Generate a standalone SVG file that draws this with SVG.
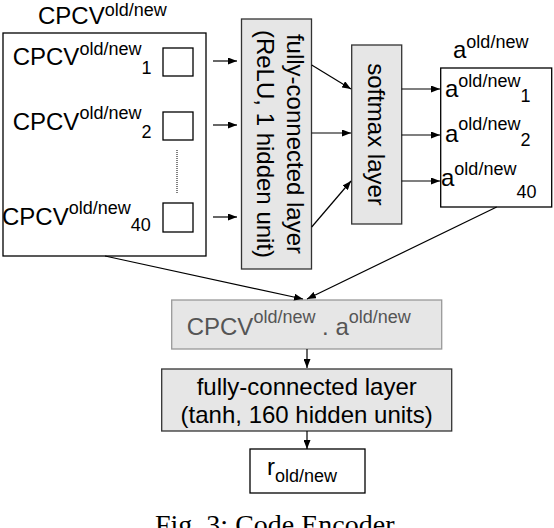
<svg xmlns="http://www.w3.org/2000/svg" width="554" height="528" viewBox="0 0 554 528">
<style>
text{font-family:"Liberation Sans",Arial,sans-serif;font-size:24px;fill:#000}
.sup{font-size:18px}
.box{fill:#fff;stroke:#000;stroke-width:1.3}
.gray{fill:#e6e6e6;stroke:#333;stroke-width:1.3}
.lgray{fill:#e6e6e6;stroke:#999;stroke-width:1.3}
.cn{stroke:#000;stroke-width:1.2;fill:none}
.cap{font-family:"Liberation Serif","Times New Roman",serif;font-size:28px}
</style>
<defs>
<marker id="ah" markerUnits="userSpaceOnUse" markerWidth="9" markerHeight="7" refX="9" refY="3.5" orient="auto">
<path d="M0,0 L9,3.5 L0,7 z" fill="#000"/>
</marker>
</defs>

<g id="cpcv-input">
<text x="38" y="24">CPCV<tspan class="sup" dy="-8">old/new</tspan></text>
<rect class="box" x="3" y="33" width="203" height="223"/>
<text x="12.7" y="65">CPCV<tspan class="sup" dy="-10">old/new</tspan><tspan class="sup" dy="19">1</tspan></text>
<rect class="box" x="163" y="48" width="30" height="28"/>
<text x="12.7" y="130">CPCV<tspan class="sup" dy="-11">old/new</tspan><tspan class="sup" dy="19">2</tspan></text>
<rect class="box" x="163" y="112" width="30" height="28"/>
<line x1="177" y1="150" x2="177" y2="193" stroke="#000" stroke-width="1" stroke-dasharray="1,1"/>
<text x="2" y="225">CPCV<tspan class="sup" dy="-11">old/new</tspan><tspan class="sup" dy="17">40</tspan></text>
<rect class="box" x="163" y="203" width="30" height="29"/>
</g>

<g id="fc-relu">
<rect class="gray" x="241.5" y="19" width="70" height="250"/>
<text transform="translate(287,144) rotate(90)" text-anchor="middle">fully-connected layer</text>
<text transform="translate(257,144) rotate(90)" text-anchor="middle">(ReLU, 1 hidden unit)</text>
</g>

<g id="softmax">
<rect class="gray" x="351.7" y="45" width="50" height="179"/>
<text transform="translate(368,134.5) rotate(90)" text-anchor="middle">softmax layer</text>
</g>

<g id="attention">
<text x="453" y="58">a<tspan class="sup" dy="-10">old/new</tspan></text>
<rect class="box" x="440.7" y="68" width="111" height="139"/>
<text x="445" y="97">a<tspan class="sup" dy="-10">old/new</tspan><tspan class="sup" dy="15">1</tspan></text>
<text x="445" y="142">a<tspan class="sup" dy="-12">old/new</tspan><tspan class="sup" dy="16">2</tspan></text>
<text x="441" y="186">a<tspan class="sup" dy="-11">old/new</tspan><tspan class="sup" dy="23">40</tspan></text>
</g>

<g id="weighted">
<rect class="lgray" x="171.7" y="300" width="270" height="49"/>
<text x="186.7" y="335" style="fill:#555">CPCV<tspan class="sup" dy="-12">old/new</tspan><tspan dy="12"> . a</tspan><tspan class="sup" dy="-12">old/new</tspan></text>
</g>

<g id="fc-tanh">
<rect class="gray" x="161.7" y="369" width="290" height="62"/>
<text x="306.7" y="395" text-anchor="middle">fully-connected layer</text>
<text x="306.7" y="423" text-anchor="middle">(tanh, 160 hidden units)</text>
</g>

<g id="output">
<rect class="box" x="250" y="449" width="115" height="44"/>
<text x="267" y="475">r<tspan class="sup" dy="7">old/new</tspan></text>
</g>

<g id="connectors">
<line class="cn" x1="213" y1="61" x2="237" y2="61" marker-end="url(#ah)"/>
<line class="cn" x1="213" y1="125" x2="237" y2="125" marker-end="url(#ah)"/>
<line class="cn" x1="213" y1="217" x2="237" y2="217" marker-end="url(#ah)"/>
<line class="cn" x1="311.7" y1="65" x2="351" y2="89" marker-end="url(#ah)"/>
<line class="cn" x1="311.7" y1="133" x2="351" y2="133" marker-end="url(#ah)"/>
<line class="cn" x1="311.7" y1="227" x2="351" y2="181" marker-end="url(#ah)"/>
<line class="cn" x1="401.7" y1="89" x2="440" y2="89" marker-end="url(#ah)"/>
<line class="cn" x1="401.7" y1="135" x2="440" y2="135" marker-end="url(#ah)"/>
<line class="cn" x1="401.7" y1="181" x2="440" y2="181" marker-end="url(#ah)"/>
<line class="cn" x1="105" y1="256" x2="303" y2="299" marker-end="url(#ah)"/>
<line class="cn" x1="496.7" y1="207" x2="307" y2="299" marker-end="url(#ah)"/>
<line class="cn" x1="307" y1="349" x2="307" y2="368" marker-end="url(#ah)"/>
<line class="cn" x1="307" y1="431" x2="307" y2="449" marker-end="url(#ah)"/>
</g>

<text class="cap" x="155" y="534">Fig. 3: Code Encoder</text>
</svg>
